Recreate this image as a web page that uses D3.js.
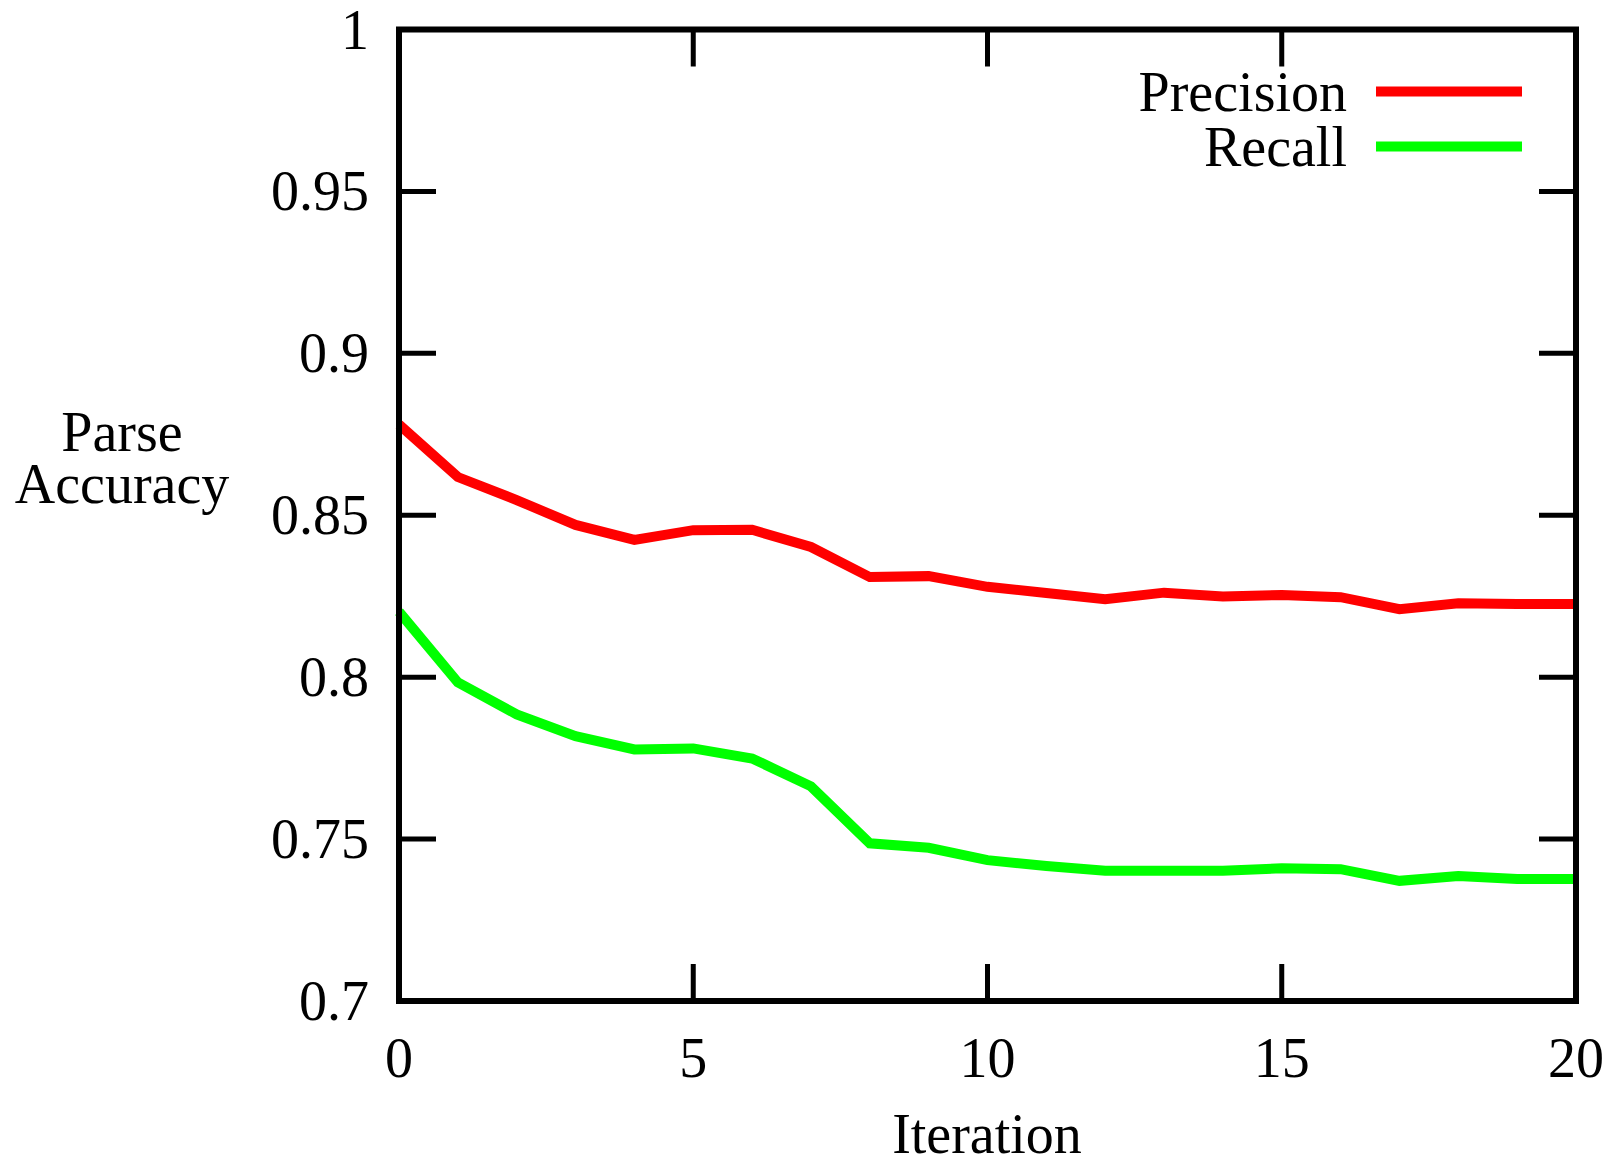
<!DOCTYPE html>
<html>
<head>
<meta charset="utf-8">
<script src="https://cdn.jsdelivr.net/npm/d3@7"></script>
<style>
  html, body { margin: 0; padding: 0; background: #fff; }
  svg text { font-family: "Liberation Serif", "DejaVu Serif", serif; fill: #000; }
</style>
</head>
<body>
<div id="chart"></div>
<script>
const iterations = d3.range(0, 21);
const precision = [0.878, 0.8618, 0.8547, 0.8470, 0.8424, 0.8454, 0.8455, 0.8402, 0.8309, 0.8312,
    0.8279, 0.8260, 0.8241, 0.8261, 0.8249, 0.8254, 0.8247, 0.8210, 0.8228, 0.8226, 0.8226];
const recall = [0.8202, 0.7984, 0.7885, 0.7818, 0.7777, 0.7780, 0.7749, 0.7663, 0.7487, 0.7473,
    0.7435, 0.7417, 0.7402, 0.7402, 0.7402, 0.7410, 0.7407, 0.7371, 0.7386, 0.7377, 0.7377];
const xTicks = [0, 5, 10, 15, 20];
const yTicks = [0.7, 0.75, 0.8, 0.85, 0.9, 0.95, 1];
const seriesNames = ["Precision", "Recall"];
const seriesColors = ["#ff0000", "#00ff00"];

const width = 1614, height = 1167;
const margin = { left: 399, right: 38, top: 29.5, bottom: 166 };

const svg = d3.select("#chart").append("svg")
    .attr("width", width)
    .attr("height", height);

const x = d3.scaleLinear().domain([0, 20]).range([margin.left, width - margin.right]);
const y = d3.scaleLinear().domain([0.7, 1]).range([height - margin.bottom, margin.top]);

const fontSize = 56;
const tickLen = 37;

// lines
const line = d3.line().x((d, i) => x(iterations[i])).y(d => y(d));
[precision, recall].forEach((s, k) => {
    svg.append("path")
        .datum(s)
        .attr("d", line)
        .attr("fill", "none")
        .attr("stroke", seriesColors[k])
        .attr("stroke-width", 10)
        .attr("stroke-linejoin", "miter");
});

// ticks on all four sides
const tickG = svg.append("g").attr("stroke", "#000").attr("stroke-width", 5);
xTicks.forEach(t => {
    tickG.append("line").attr("x1", x(t)).attr("x2", x(t))
        .attr("y1", y(0.7)).attr("y2", y(0.7) - tickLen);
    tickG.append("line").attr("x1", x(t)).attr("x2", x(t))
        .attr("y1", y(1)).attr("y2", y(1) + tickLen);
});
yTicks.forEach(t => {
    tickG.append("line").attr("x1", x(0)).attr("x2", x(0) + tickLen)
        .attr("y1", y(t)).attr("y2", y(t));
    tickG.append("line").attr("x1", x(20)).attr("x2", x(20) - tickLen)
        .attr("y1", y(t)).attr("y2", y(t));
});

// frame
svg.append("rect")
    .attr("x", x(0)).attr("y", y(1))
    .attr("width", x(20) - x(0)).attr("height", y(0.7) - y(1))
    .attr("fill", "none").attr("stroke", "#000").attr("stroke-width", 6);

// tick labels
svg.selectAll(".ylab").data(yTicks).enter().append("text")
    .attr("class", "ylab")
    .attr("x", x(0) - 30)
    .attr("y", d => y(d) + 19)
    .attr("text-anchor", "end")
    .attr("font-size", fontSize)
    .text(d => d3.format("")(d));

svg.selectAll(".xlab").data(xTicks).enter().append("text")
    .attr("class", "xlab")
    .attr("x", d => x(d))
    .attr("y", 1077)
    .attr("text-anchor", "middle")
    .attr("font-size", fontSize)
    .text(d => d);

// axis titles
svg.append("text")
    .attr("x", 987).attr("y", 1153)
    .attr("text-anchor", "middle")
    .attr("font-size", fontSize)
    .text("Iteration");

const yTitle = svg.append("text")
    .attr("text-anchor", "middle")
    .attr("font-size", fontSize);
yTitle.append("tspan").attr("x", 122).attr("y", 451).text("Parse");
yTitle.append("tspan").attr("x", 122).attr("y", 503).text("Accuracy");

// legend
seriesNames.forEach((name, k) => {
    const ly = 91.5 + k * 55;
    svg.append("text")
        .attr("x", 1347).attr("y", ly + 19)
        .attr("text-anchor", "end")
        .attr("font-size", fontSize)
        .text(name);
    svg.append("line")
        .attr("x1", 1376).attr("x2", 1522)
        .attr("y1", ly).attr("y2", ly)
        .attr("stroke", seriesColors[k])
        .attr("stroke-width", 10);
});
</script>
</body>
</html>
